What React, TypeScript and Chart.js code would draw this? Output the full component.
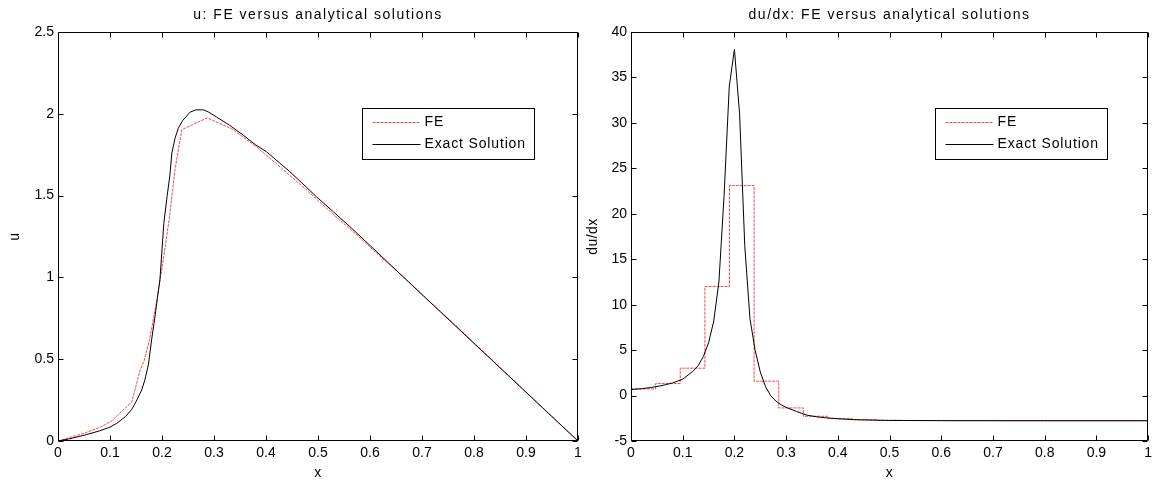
import React, { useEffect, useRef } from "react";
import { Chart, registerables } from "chart.js";
Chart.register(...registerables);

const FONT = '"Liberation Sans", Arial, Helvetica, sans-serif';

// ---- Left plot: u ----
const uExactX = [0, 0.02, 0.05, 0.08, 0.1, 0.113, 0.13, 0.142, 0.15, 0.161, 0.167, 0.174, 0.18, 0.1865, 0.191, 0.196, 0.2035, 0.21, 0.215, 0.219, 0.225, 0.2314, 0.24, 0.254, 0.265, 0.28, 0.29, 0.305, 0.33, 0.356, 0.38, 0.401, 0.446, 0.497, 0.5615, 0.6, 0.7, 0.8, 0.9, 1];
const uExactY = [0, 0.012, 0.035, 0.062, 0.085, 0.108, 0.15, 0.194, 0.24, 0.312, 0.373, 0.47, 0.618, 0.76, 0.87, 0.985, 1.33, 1.5, 1.62, 1.76, 1.85, 1.912, 1.96, 2.01, 2.024, 2.024, 2.01, 1.98, 1.93, 1.87, 1.81, 1.768, 1.646, 1.493, 1.31, 1.195, 0.895, 0.597, 0.298, 0];

const uFeX = [0, 0.05, 0.081, 0.103, 0.142, 0.158, 0.165, 0.176, 0.19, 0.2025, 0.214, 0.225, 0.238, 0.287, 0.333, 0.381, 0.429, 0.476, 0.524, 0.571, 0.619, 0.667, 0.714, 0.762, 0.81, 0.857, 0.905, 0.952, 1];
const uFeY = [0, 0.047, 0.084, 0.122, 0.24, 0.435, 0.485, 0.618, 0.86, 1.108, 1.36, 1.658, 1.903, 1.975, 1.91, 1.80, 1.67, 1.54, 1.40, 1.27, 1.13, 0.995, 0.855, 0.715, 0.57, 0.43, 0.285, 0.143, 0];

const xTicks = [0, 0.1, 0.2, 0.3, 0.4, 0.5, 0.6, 0.7, 0.8, 0.9, 1];

// ---- Right plot: du/dx ----
const dExactX = [0, 0.02, 0.04, 0.06, 0.08, 0.1, 0.12, 0.13, 0.14, 0.15, 0.16, 0.17, 0.18, 0.19, 0.2, 0.21, 0.22, 0.23, 0.24, 0.25, 0.26, 0.27, 0.28, 0.29, 0.3, 0.32, 0.34, 0.36, 0.38, 0.4, 0.43, 0.47, 0.5, 0.6, 0.8, 1];
const dExactY = [0.66, 0.75, 0.9, 1.1, 1.38, 1.8, 2.68, 3.3, 4.3, 5.8, 8.2, 12.5, 22, 34, 38.1, 31, 16.5, 8.5, 5.0, 2.6, 1.0, 0.0, -0.6, -1.0, -1.3, -1.75, -2.15, -2.35, -2.46, -2.55, -2.65, -2.71, -2.74, -2.76, -2.77, -2.77];

// FE element-wise constant derivative, 21 elements
const feNodes = [0, 0.0476, 0.0952, 0.1429, 0.1905, 0.2381, 0.2857, 0.3333, 0.381, 0.4286, 0.4762, 0.5238, 0.5714, 0.619, 0.6667, 0.7143, 0.7619, 0.8095, 0.8571, 0.9048, 0.9524, 1];
const feSlopes = [0.74, 1.32, 3.01, 12.0, 23.1, 1.58, -1.36, -2.28, -2.54, -2.65, -2.72, -2.74, -2.75, -2.76, -2.76, -2.77, -2.77, -2.77, -2.77, -2.77, -2.77];

const zip = (xs: number[], ys: number[]) => xs.map((x, i) => ({ x, y: ys[i] }));
const stepPoints = (nodes: number[], vals: number[]) => {
  const pts: { x: number; y: number }[] = [];
  vals.forEach((v, i) => {
    pts.push({ x: nodes[i], y: v });
    pts.push({ x: nodes[i + 1], y: v });
  });
  return pts;
};
const fmt = (v: any) => String(+(+v).toFixed(4));

const RED = "rgba(255,40,40,0.85)";
const RED_DASH = [3, 1];

type FrameOpts = {
  title: string;
  xLabel: string;
  yLabel: string;
  yLabelX: number;
};

const framePlugin = (o: FrameOpts) => ({
  id: "matlabFrame",
  afterDraw(chart: any) {
    const ctx = chart.ctx as any;
    const { left, right, top, bottom } = chart.chartArea;
    const xs = chart.scales.x;
    const ys = chart.scales.y;
    ctx.save();
    ctx.strokeStyle = "#000";
    ctx.lineWidth = 1;
    const L = Math.round(left) + 0.5;
    const R = Math.round(right) - 0.5;
    const T = Math.round(top) + 0.5;
    const B = Math.round(bottom) - 0.5;
    ctx.beginPath();
    ctx.rect(L, T, R - L, B - T);
    ctx.stroke();
    const tl = 5;
    ctx.beginPath();
    xs.ticks.forEach((t: any) => {
      const p = Math.round(xs.getPixelForValue(t.value)) + 0.5;
      ctx.moveTo(p, B);
      ctx.lineTo(p, B - tl);
      ctx.moveTo(p, T);
      ctx.lineTo(p, T + tl);
    });
    ys.ticks.forEach((t: any) => {
      const p = Math.round(ys.getPixelForValue(t.value)) + 0.5;
      ctx.moveTo(L, p);
      ctx.lineTo(L + tl, p);
      ctx.moveTo(R, p);
      ctx.lineTo(R - tl, p);
    });
    ctx.stroke();

    // title & labels
    ctx.fillStyle = "#000";
    ctx.font = `14px ${FONT}`;
    ctx.textAlign = "center";
    ctx.textBaseline = "middle";
    const cx = (left + right) / 2;
    ctx.letterSpacing = "1.5px";
    ctx.fillText(o.title, cx, 15);
    ctx.letterSpacing = "0.5px";
    ctx.fillText(o.xLabel, cx, 473);
    ctx.save();
    ctx.translate(o.yLabelX, (top + bottom) / 2);
    ctx.rotate(-Math.PI / 2);
    ctx.fillText(o.yLabel, 0, 0);
    ctx.restore();

    // legend
    const lx = Math.round(left) + 304 + 0.5;
    const ly = 108.5;
    const lw = 172;
    const lh = 51;
    ctx.fillStyle = "#fff";
    ctx.fillRect(lx, ly, lw, lh);
    ctx.strokeStyle = "#000";
    ctx.strokeRect(lx, ly, lw, lh);
    ctx.letterSpacing = "0.85px";
    const dsets = chart.data.datasets;
    dsets.forEach((d: any, i: number) => {
      const yy = Math.round(ly + 13 + i * 22) + 0.5;
      ctx.beginPath();
      ctx.strokeStyle = d.borderColor;
      ctx.setLineDash(d.borderDash || []);
      ctx.moveTo(lx + 10, yy);
      ctx.lineTo(lx + 58, yy);
      ctx.stroke();
      ctx.setLineDash([]);
      ctx.fillStyle = "#000";
      ctx.textAlign = "left";
      ctx.fillText(d.label, lx + 62, yy);
    });
    ctx.letterSpacing = "0px";
    ctx.restore();
  },
});

type PlotProps = {
  width: number;
  offsetLeft: number;
  yWidth: number;
  padRight: number;
  yMin: number;
  yMax: number;
  yStep: number;
  datasets: any[];
  frame: FrameOpts;
};

function Plot(p: PlotProps) {
  const ref = useRef<HTMLCanvasElement | null>(null);
  useEffect(() => {
    if (!ref.current) return;
    const chart = new Chart(ref.current, {
      type: "line",
      data: { datasets: p.datasets },
      options: {
        animation: false,
        responsive: false,
        devicePixelRatio: 1,
        layout: { padding: { top: 32, right: p.padRight, left: 0, bottom: 0 } },
        plugins: { legend: { display: false }, title: { display: false }, tooltip: { enabled: false } },
        elements: { point: { radius: 0 }, line: { tension: 0 } },
        scales: {
          x: {
            type: "linear",
            min: 0,
            max: 1,
            afterFit: (s: any) => {
              s.height = 43;
            },
            afterBuildTicks: (s: any) => {
              s.ticks = xTicks.map((v) => ({ value: v }));
            },
            grid: { display: false, drawTicks: false },
            border: { display: false },
            ticks: { color: "#000", font: { family: FONT, size: 14 }, padding: 4, maxRotation: 0, autoSkip: false, callback: fmt },
          },
          y: {
            type: "linear",
            min: p.yMin,
            max: p.yMax,
            afterFit: (s: any) => {
              s.width = p.yWidth;
            },
            ticks: { stepSize: p.yStep, color: "#000", font: { family: FONT, size: 14 }, padding: 4, autoSkip: false, callback: fmt },
            grid: { display: false, drawTicks: false },
            border: { display: false },
          },
        },
      },
      plugins: [framePlugin(p.frame)],
    } as any);
    return () => chart.destroy();
  }, []);
  return (
    <canvas
      ref={ref}
      width={p.width}
      height={484}
      style={{ position: "absolute", left: p.offsetLeft, top: 0, width: p.width, height: 484 }}
    />
  );
}

export default function App() {
  const leftSets = [
    { label: "FE", data: zip(uFeX, uFeY), borderColor: RED, borderDash: RED_DASH, borderWidth: 1, order: 1 },
    { label: "Exact Solution", data: zip(uExactX, uExactY), borderColor: "#000", borderWidth: 1, order: 0 },
  ];
  const rightSets = [
    { label: "FE", data: stepPoints(feNodes, feSlopes), borderColor: RED, borderDash: RED_DASH, borderWidth: 1, order: 1 },
    { label: "Exact Solution", data: zip(dExactX, dExactY), borderColor: "#000", borderWidth: 1, order: 0 },
  ];
  return (
    <div style={{ position: "absolute", left: 0, top: 0, width: 1156, height: 484, background: "#fff" }}>
      <Plot
        width={600}
        offsetLeft={0}
        yWidth={58}
        padRight={22}
        yMin={0}
        yMax={2.5}
        yStep={0.5}
        datasets={leftSets}
        frame={{ title: "u: FE versus analytical solutions", xLabel: "x", yLabel: "u", yLabelX: 15 }}
      />
      <Plot
        width={576}
        offsetLeft={580}
        yWidth={51}
        padRight={6}
        yMin={-5}
        yMax={40}
        yStep={5}
        datasets={rightSets}
        frame={{ title: "du/dx: FE versus analytical solutions", xLabel: "x", yLabel: "du/dx", yLabelX: 13 }}
      />
    </div>
  );
}
